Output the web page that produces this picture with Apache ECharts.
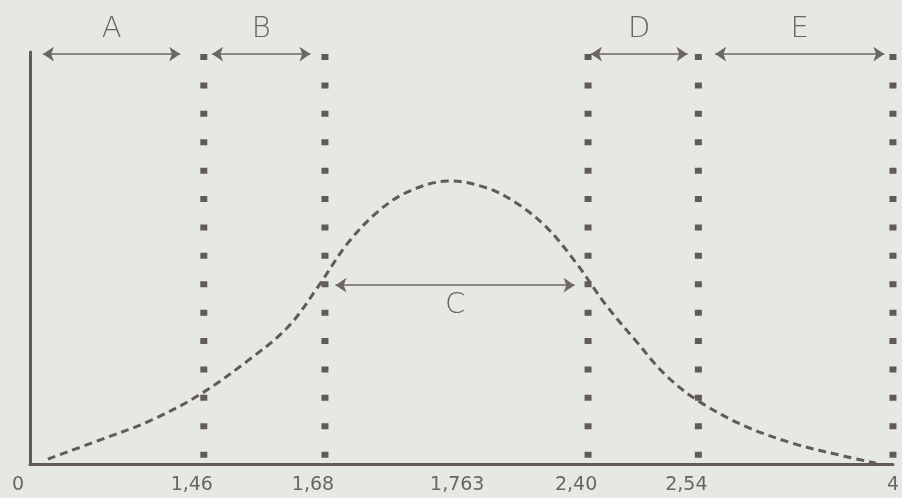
<!DOCTYPE html>
<html>
<head>
<meta charset="utf-8">
<script src="https://cdn.jsdelivr.net/npm/echarts@6/dist/echarts.min.js"></script>
<style>
  html, body { margin: 0; padding: 0; background: #e6e9e2; }
  #chart { width: 902px; height: 498px; }
</style>
</head>
<body>
<div id="chart"></div>
<script>
// Durbin-Watson decision regions drawn on a schematic axis (0..100 along the baseline).

// Tick labels and where they sit on the schematic axis
const tickLabels = ['0', '1,46', '1,68', '1,763', '2,40', '2,54', '4'];
const tickPos = [0, 20.14, 34.18, 50.9, 64.67, 77.45, 100];

// Critical values (dL, dU, 4-dU, 4-dL, 4) as dotted boundaries
const boundaryPos = [20.14, 34.18, 64.67, 77.45, 100];
const boundaryTop = 99.5;
const boundaryBottom = 1.4;

// Regions between boundaries
const regionNames = ['A', 'B', 'C', 'D', 'E'];
const regionStart = [1.5, 21.1, 35.4, 65.0, 79.4];
const regionEnd = [17.4, 32.5, 63.1, 76.2, 99.0];
const regionLevel = [99.5, 99.5, 43.4, 99.5, 99.5];

// Distribution curve of d
const curveX = [2.07, 8.06, 13.81, 19.56, 25.32, 29.92, 33.37, 36.82, 40.28, 43.73, 48.33, 52.93,
  56.39, 59.84, 63.29, 66.74, 70.20, 73.65, 77.45, 82.85, 88.61, 94.36, 98.04];
const curveY = [1.2, 5.8, 10.4, 16.7, 25.2, 33.3, 43.0, 53.6, 61.2, 66.0, 68.7, 67.0,
  63.3, 57.5, 48.8, 38.6, 29.9, 21.6, 15.3, 9.2, 4.9, 1.9, 0.2];

const ink = '#625959';
const textInk = '#6b6464';
const font = "'DejaVu Sans', sans-serif";

const chart = echarts.init(document.getElementById('chart'), null, { renderer: 'canvas' });

const series = [];

// Dotted boundary lines
boundaryPos.forEach(function (x) {
  series.push({
    type: 'line',
    data: [[x, boundaryTop], [x, boundaryBottom]],
    symbol: 'none',
    clip: false,
    silent: true,
    lineStyle: { color: ink, width: 7, type: [6, 22.4], cap: 'butt' },
    z: 3
  });
});

// Dashed distribution curve: one smooth polyline through the curve points
series.push({
  type: 'custom',
  silent: true,
  z: 4,
  data: [0],
  renderItem: function (params, api) {
    const pts = curveX.map(function (x, i) { return api.coord([x, curveY[i]]); });
    return {
      type: 'polyline',
      shape: { points: pts, smooth: 0.35 },
      style: { fill: null, stroke: ink, lineWidth: 3, lineDash: [8, 5] }
    };
  }
});

// Region arrows with their letters
series.push({
  type: 'line',
  data: [],
  silent: true,
  markLine: {
    silent: true,
    animation: false,
    symbol: ['arrow', 'arrow'],
    symbolSize: 11,
    lineStyle: { color: '#6e6565', width: 1.5, type: 'solid' },
    data: regionNames.map(function (name, i) {
      const below = regionLevel[i] < 90;
      return [
        {
          coord: [regionStart[i], regionLevel[i]],
          name: name,
          label: {
            show: true,
            formatter: name,
            position: below ? 'insideMiddleBottom' : 'insideMiddleTop',
            distance: below ? 6 : 10,
            fontFamily: font,
            fontSize: 29,
            fontWeight: 'lighter',
            color: textInk
          }
        },
        { coord: [regionEnd[i], regionLevel[i]] }
      ];
    })
  }
});

chart.setOption({
  animation: false,
  backgroundColor: '#e6e9e2',
  grid: { left: 30, right: 3, top: 52, bottom: 34, containLabel: false },
  xAxis: {
    type: 'value',
    min: 0,
    max: 100,
    splitLine: { show: false },
    axisTick: { show: false },
    axisLine: { show: true, onZero: false, lineStyle: { color: ink, width: 3 } },
    axisLabel: {
      customValues: tickPos,
      margin: 12,
      formatter: function (v) {
        const i = tickPos.indexOf(v);
        const t = i >= 0 ? tickLabels[i] : '';
        return i === tickPos.length - 1 ? '{e|' + t + '}' : '{a|' + t + '}';
      },
      rich: {
        a: { fontFamily: font, fontSize: 19, color: textInk, padding: [0, 24, 0, 0] },
        e: { fontFamily: font, fontSize: 19, color: textInk }
      }
    }
  },
  yAxis: {
    type: 'value',
    min: 0,
    max: 100,
    splitLine: { show: false },
    axisTick: { show: false },
    axisLabel: { show: false },
    axisLine: { show: true, onZero: false, lineStyle: { color: ink, width: 3 } }
  },
  series: series
});
</script>
</body>
</html>
